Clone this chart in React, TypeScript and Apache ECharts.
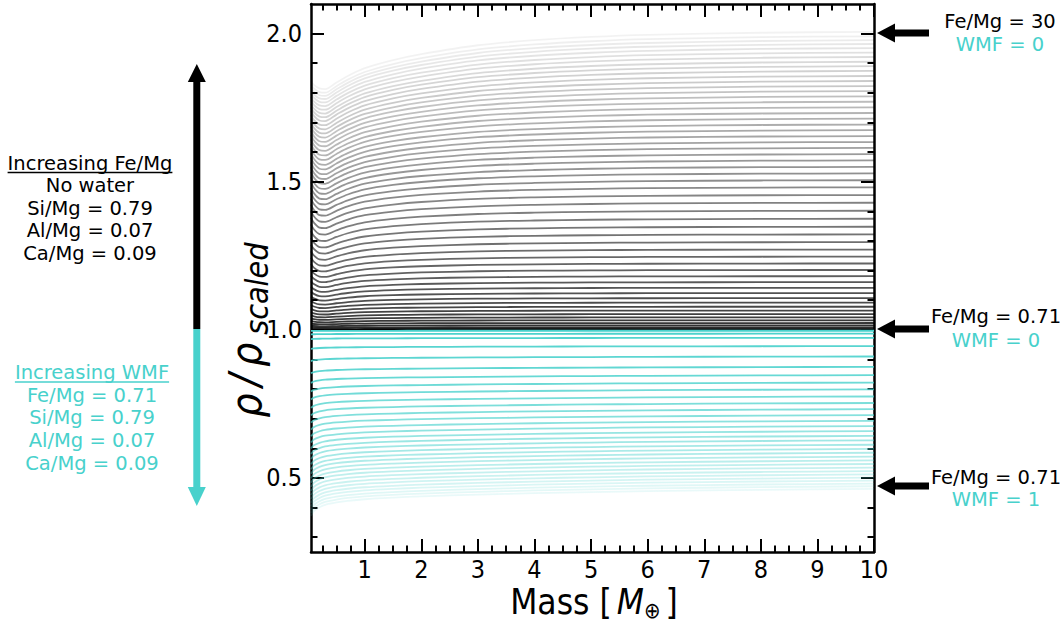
import React, { useEffect, useRef } from 'react';
import * as echarts from 'echarts';

// ---------- data ----------
const massGrid = [0.05, 0.1, 0.2, 0.3, 0.5, 0.7, 1, 1.5, 2, 3, 4, 5, 6, 8, 10];

// rho/rho_scaled at M = 10 for each Fe/Mg curve (no water), top to bottom
const feMgEndDensity = [
  2.006, 1.991, 1.978, 1.965, 1.951, 1.936, 1.921, 1.905, 1.890, 1.874,
  1.857, 1.840, 1.823, 1.806, 1.788, 1.770, 1.751, 1.732, 1.713, 1.693,
  1.674, 1.654, 1.634, 1.614, 1.593, 1.572, 1.550, 1.528, 1.505, 1.481,
  1.455, 1.429, 1.402, 1.375, 1.348, 1.322, 1.296, 1.271, 1.247, 1.224,
  1.202, 1.181, 1.161, 1.142, 1.124, 1.107, 1.092, 1.078, 1.065, 1.053,
  1.042, 1.032, 1.023, 1.015, 1.008, 1.003, 1.000,
];
// fraction of the (rho-1) excess reached at each massGrid point, high Fe/Mg curve
const feMgShapeHigh = [0.835, 0.822, 0.81, 0.808, 0.83, 0.852, 0.878, 0.905, 0.925, 0.955, 0.972, 0.983, 0.99, 0.997, 1.0];
// same for the low Fe/Mg curves
const feMgShapeLow = [0.92, 0.86, 0.8, 0.795, 0.84, 0.88, 0.92, 0.95, 0.968, 0.985, 0.992, 0.996, 0.998, 1.0, 1.0];

// rho/rho_scaled at M = 10 for each WMF curve, top (WMF=0) to bottom (WMF=1)
const wmfEndDensity = [
  0.997, 0.987, 0.973, 0.945, 0.910, 0.875, 0.847, 0.822, 0.799, 0.775,
  0.753, 0.732, 0.712, 0.693, 0.675, 0.658, 0.642, 0.627, 0.612, 0.598,
  0.585, 0.572, 0.559, 0.547, 0.535, 0.523, 0.512, 0.501, 0.491, 0.481,
  0.472, 0.463,
];
// deficit (1-rho) relative to its M = 10 value at each massGrid point
const wmfShape = [1.17, 1.14, 1.115, 1.1, 1.085, 1.075, 1.065, 1.055, 1.047, 1.036, 1.027, 1.02, 1.014, 1.006, 1.0];

const xMajorTicks = [1, 2, 3, 4, 5, 6, 7, 8, 9, 10];
const yMajorTicks = [0.5, 1.0, 1.5, 2.0];

const leftBlackLines = ['No water', 'Si/Mg = 0.79', 'Al/Mg = 0.07', 'Ca/Mg = 0.09'];
const leftCyanLines = ['Fe/Mg = 0.71', 'Si/Mg = 0.79', 'Al/Mg = 0.07', 'Ca/Mg = 0.09'];
const rightNotes = [
  { top: 'Fe/Mg = 30', bottom: 'WMF = 0', value: 2.0 },
  { top: 'Fe/Mg = 0.71', bottom: 'WMF = 0', value: 1.0 },
  { top: 'Fe/Mg = 0.71', bottom: 'WMF = 1', value: 0.47 },
];

const CYAN = '#48D1CC';
const AXIS_FONT = "'DejaVu Sans Condensed', 'DejaVu Sans', sans-serif";
const NOTE_FONT = "'DejaVu Sans', sans-serif";
const NOTE_SIZE = 19.5;

function measure(text: string, font: string): number {
  const c = document.createElement('canvas').getContext('2d');
  if (!c) return text.length * 10;
  c.font = font;
  return c.measureText(text).width;
}

export default function App() {
  const ref = useRef<HTMLDivElement>(null);

  useEffect(() => {
    if (!ref.current) return;
    const chart = echarts.init(ref.current, null, { renderer: 'svg' });

    const X_MIN = 0.05, X_MAX = 10, Y_MIN = 0.25, Y_MAX = 2.1;
    const xMinor: number[] = [];
    for (let v = 0.25; v < 10; v += 0.25) {
      const r = Math.round(v * 100) / 100;
      if (Math.abs(r - Math.round(r)) > 1e-6) xMinor.push(r);
    }
    const yMinor: number[] = [];
    for (let v = 0.3; v <= 2.05; v += 0.1) {
      const r = Math.round(v * 10) / 10;
      if (Math.abs(r * 2 - Math.round(r * 2)) > 1e-6) yMinor.push(r);
    }

    const series: any[] = [];
    const nB = feMgEndDensity.length;
    feMgEndDensity.forEach((E, i) => {
      const w = Math.min(1, Math.max(0, E - 1));
      const alpha = 0.05 + 0.8 * (i / (nB - 1));
      series.push({
        type: 'line',
        silent: true,
        showSymbol: false,
        symbol: 'none',
        smooth: 0.3,
        data: massGrid.map((m, k) => [m, 1 + (E - 1) * (feMgShapeLow[k] * (1 - w) + feMgShapeHigh[k] * w)]),
        lineStyle: { width: 1.8, color: `rgba(0,0,0,${alpha.toFixed(3)})` },
      });
    });
    const nC = wmfEndDensity.length;
    wmfEndDensity.forEach((E, i) => {
      const alpha = 1 - 0.88 * (i / (nC - 1));
      series.push({
        type: 'line',
        silent: true,
        showSymbol: false,
        symbol: 'none',
        smooth: 0.3,
        data: massGrid.map((m, k) => [m, 1 - (1 - E) * wmfShape[k]]),
        lineStyle: { width: 1.8, color: CYAN, opacity: alpha },
      });
    });

    const lineStyle = { color: '#000', width: 2.5 };
    const mkX = (position: string, ticks: number[], len: number, labels: boolean, line: boolean) => ({
      type: 'value', position, min: X_MIN, max: X_MAX,
      axisLine: { show: line, onZero: false, lineStyle },
      axisTick: { show: true, inside: true, length: len, customValues: ticks, lineStyle: { color: '#000', width: 2 } },
      axisLabel: labels
        ? { show: true, customValues: ticks, fontSize: 25, lineHeight: 22, color: '#000', fontFamily: AXIS_FONT, margin: 6 }
        : { show: false },
      splitLine: { show: false },
    });
    const mkY = (position: string, ticks: number[], len: number, labels: boolean, line: boolean) => ({
      type: 'value', position, min: Y_MIN, max: Y_MAX,
      axisLine: { show: line, onZero: false, lineStyle },
      axisTick: { show: true, inside: true, length: len, customValues: ticks, lineStyle: { color: '#000', width: 2 } },
      axisLabel: labels
        ? { show: true, customValues: ticks, fontSize: 25, lineHeight: 22, color: '#000', fontFamily: AXIS_FONT, margin: 9, formatter: (v: number) => v.toFixed(1) }
        : { show: false },
      splitLine: { show: false },
    });

    // ---------- graphics ----------
    const graphic: any[] = [];
    const noteFont = `${NOTE_SIZE}px ${NOTE_FONT}`;
    const addText = (text: string, x: number, y: number, fill: string) =>
      graphic.push({
        type: 'text', x, y, silent: true,
        style: { text, fontSize: NOTE_SIZE, fontFamily: NOTE_FONT, fill, align: 'center', verticalAlign: 'middle', lineHeight: 20 },
      });

    // left block
    const leftCx = 90;
    addText('Increasing Fe/Mg', leftCx, 163, '#000');
    const w1 = measure('Increasing Fe/Mg', noteFont);
    graphic.push({ type: 'line', silent: true, shape: { x1: leftCx - w1 / 2, y1: 172.5, x2: leftCx + w1 / 2, y2: 172.5 }, style: { stroke: '#000', lineWidth: 1.3 } });
    leftBlackLines.forEach((t, i) => addText(t, leftCx, 185.5 + i * 22.6, '#000'));
    const cCx = 92;
    addText('Increasing WMF', cCx, 372.5, CYAN);
    const w2 = measure('Increasing WMF', noteFont);
    graphic.push({ type: 'line', silent: true, shape: { x1: cCx - w2 / 2, y1: 382, x2: cCx + w2 / 2, y2: 382 }, style: { stroke: CYAN, lineWidth: 1.3 } });
    leftCyanLines.forEach((t, i) => addText(t, cCx, 395 + i * 22.7, CYAN));

    // vertical double-coloured arrow
    const ax = 196.8;
    graphic.push({ type: 'rect', silent: true, shape: { x: ax - 3.5, y: 80, width: 7, height: 249 }, style: { fill: '#000' } });
    graphic.push({ type: 'polygon', silent: true, shape: { points: [[ax - 9, 82], [ax + 9, 82], [ax, 64]] }, style: { fill: '#000' } });
    graphic.push({ type: 'rect', silent: true, shape: { x: ax - 3.5, y: 329, width: 7, height: 160 }, style: { fill: CYAN } });
    graphic.push({ type: 'polygon', silent: true, shape: { points: [[ax - 9, 487], [ax + 9, 487], [ax, 506]] }, style: { fill: CYAN } });

    // x title
    const xtFont = 35;
    const partA = 'Mass [';
    const fA = `${xtFont}px ${AXIS_FONT}`;
    const fB = `italic ${xtFont}px ${AXIS_FONT}`;
    const fC = `22px ${AXIS_FONT}`;
    const wA = measure(partA, fA), wB = measure('M', fB), wC = measure('⊕', fC), wD = measure(']', fA);
    const gap = 5;
    const total = wA + gap + wB + wC + gap + wD;
    let cx = 594 - total / 2;
    const ty = 602;
    const tstyle = (text: string, size: number, italic: boolean) => ({
      text, fontSize: size, fontStyle: italic ? 'italic' : 'normal', fontFamily: AXIS_FONT, fill: '#000',
      align: 'left', verticalAlign: 'middle', lineHeight: size * 0.8,
    });
    graphic.push({ type: 'text', silent: true, x: cx, y: ty, style: tstyle(partA, xtFont, false) });
    cx += wA + gap;
    graphic.push({ type: 'text', silent: true, x: cx, y: ty, style: tstyle('M', xtFont, true) });
    cx += wB;
    graphic.push({ type: 'text', silent: true, x: cx, y: ty + 8, style: tstyle('⊕', 22, false) });
    cx += wC + gap;
    graphic.push({ type: 'text', silent: true, x: cx, y: ty, style: tstyle(']', xtFont, false) });

    // y title (rotated): rho / rho_scaled
    const fs1 = 42, fs2 = 32;
    const fRho = `italic ${fs1}px ${AXIS_FONT}`;
    const wRho = measure('ρ', fRho);
    const wSl = measure('/', fRho);
    const wSc = measure('scaled', `italic ${fs2}px ${AXIS_FONT}`);
    const g1 = 7;
    const g2 = 8;
    const yTot = wRho + g1 + wSl + g1 + wRho + g2 + wSc;
    let lx = -yTot / 2;
    const yChildren: any[] = [];
    yChildren.push({ type: 'text', x: lx, y: 0, style: tstyle('ρ', fs1, true) });
    lx += wRho + g1;
    yChildren.push({ type: 'text', x: lx, y: -2, style: tstyle('/', fs1, true) });
    lx += wSl + g1;
    yChildren.push({ type: 'text', x: lx, y: 0, style: tstyle('ρ', fs1, true) });
    lx += wRho + g2;
    yChildren.push({ type: 'text', x: lx, y: 11, style: tstyle('scaled', fs2, true) });
    graphic.push({ type: 'group', x: 246, y: 330, rotation: Math.PI / 2, silent: true, children: yChildren });

    const option: any = {
      animation: false,
      backgroundColor: '#fff',
      grid: { left: 311, right: 190, top: 4, bottom: 70, containLabel: false, outerBoundsMode: 'none' },
      xAxis: [
        mkX('bottom', xMajorTicks, 13, true, true),
        mkX('bottom', xMinor, 6.5, false, false),
        mkX('top', xMajorTicks, 13, false, true),
        mkX('top', xMinor, 6.5, false, false),
      ],
      yAxis: [
        mkY('left', yMajorTicks, 13, true, true),
        mkY('left', yMinor, 6.5, false, false),
        mkY('right', yMajorTicks, 13, false, true),
        mkY('right', yMinor, 6.5, false, false),
      ],
      series,
      graphic,
    };
    chart.setOption(option);

    // right-hand arrows + notes, placed with the chart's own y scale
    const extra: any[] = [];
    rightNotes.forEach((n) => {
      const py = chart.convertToPixel({ yAxisIndex: 0 }, n.value) as number;
      const ay = Math.round(py) - 1;
      extra.push({ type: 'rect', silent: true, shape: { x: 893, y: ay - 3.5, width: 36, height: 7 }, style: { fill: '#000' } });
      extra.push({ type: 'polygon', silent: true, shape: { points: [[895, ay - 9.5], [895, ay + 9.5], [877, ay]] }, style: { fill: '#000' } });
    });
    const noteX = [1000, 996, 996];
    const noteTopY = [21, 316.5, 477];
    const noteBotY = [44, 340, 499];
    rightNotes.forEach((n, i) => {
      extra.push({ type: 'text', silent: true, x: noteX[i], y: noteTopY[i], style: { text: n.top, fontSize: NOTE_SIZE, fontFamily: NOTE_FONT, fill: '#000', align: 'center', verticalAlign: 'middle', lineHeight: 20 } });
      extra.push({ type: 'text', silent: true, x: noteX[i], y: noteBotY[i], style: { text: n.bottom, fontSize: NOTE_SIZE, fontFamily: NOTE_FONT, fill: CYAN, align: 'center', verticalAlign: 'middle', lineHeight: 20 } });
    });
    chart.setOption({ graphic: graphic.concat(extra) });

    return () => chart.dispose();
  }, []);

  return <div ref={ref} style={{ position: 'fixed', left: 0, top: 0, width: 1064, height: 622, background: '#fff' }} />;
}
